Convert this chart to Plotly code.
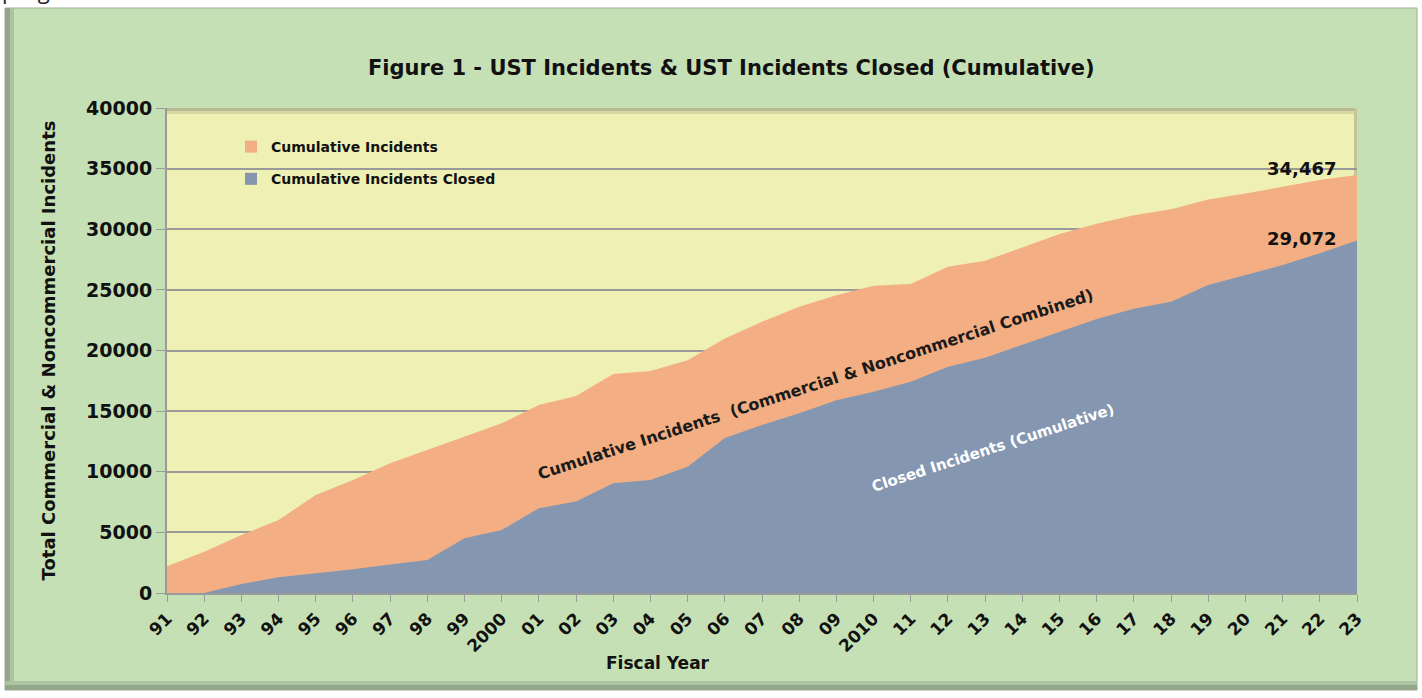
import plotly.graph_objects as go

years = ["91", "92", "93", "94", "95", "96", "97", "98", "99", "2000",
         "01", "02", "03", "04", "05", "06", "07", "08", "09", "2010",
         "11", "12", "13", "14", "15", "16", "17", "18", "19", "20",
         "21", "22", "23"]
cumulative_incidents = [2200, 3400, 4780, 6020, 8080, 9320, 10700, 11800, 12900, 14000,
                        15500, 16250, 18060, 18300, 19200, 21000, 22380, 23600, 24550, 25350,
                        25480, 26900, 27400, 28500, 29600, 30450, 31150, 31650, 32450, 32950,
                        33500, 34060, 34467]
cumulative_closed = [0, 0, 740, 1290, 1620, 1950, 2360, 2720, 4510, 5200,
                     6980, 7550, 9050, 9320, 10420, 12780, 13860, 14820, 15900, 16600,
                     17430, 18660, 19400, 20450, 21550, 22600, 23450, 24030, 25400, 26230,
                     27050, 28020, 29072]
y_ticks = [0, 5000, 10000, 15000, 20000, 25000, 30000, 35000, 40000]

W, H = 1422, 698
L, R, T, B = 167, 65, 108, 105
PW, PH = W - L - R, H - T - B


def px(x):
    return (x - L) / PW


def py(y):
    return (H - B - y) / PH


FONT = "DejaVu Sans"
C_ORANGE = "#F3AF83"
C_BLUE = "#8496B0"
TXT = "#111111"

fig = go.Figure()
fig.add_trace(go.Scatter(
    x=years, y=cumulative_incidents, name="Cumulative Incidents",
    mode="lines", line=dict(width=0, color=C_ORANGE), fill="tozeroy",
    fillcolor=C_ORANGE, showlegend=False))
fig.add_trace(go.Scatter(
    x=years, y=cumulative_closed, name="Cumulative Incidents Closed",
    mode="lines", line=dict(width=0, color=C_BLUE), fill="tozeroy",
    fillcolor=C_BLUE, showlegend=False))
# legend entries (square swatches)
fig.add_trace(go.Scatter(
    x=[None], y=[None], name="<b>Cumulative Incidents</b>", mode="markers",
    marker=dict(symbol="square", size=9, color=C_ORANGE), legendgroup="a"))
fig.add_trace(go.Scatter(
    x=[None], y=[None], name="<b>Cumulative Incidents Closed</b>", mode="markers",
    marker=dict(symbol="square", size=9, color=C_BLUE), legendgroup="b"))

shapes = [
    # green frame
    dict(type="rect", xref="paper", yref="paper", layer="below",
         x0=px(5), x1=px(1417), y0=py(690), y1=py(8),
         fillcolor="#C6E0B5", line=dict(width=1, color="#a0ac95")),
    # left shadow
    dict(type="rect", xref="paper", yref="paper", layer="below",
         x0=px(5), x1=px(10), y0=py(690), y1=py(8),
         fillcolor="#93a68a", line=dict(width=0)),
    dict(type="rect", xref="paper", yref="paper", layer="below",
         x0=px(10), x1=px(14), y0=py(690), y1=py(8),
         fillcolor="#aec3a1", line=dict(width=0)),
    # bottom shadow
    dict(type="rect", xref="paper", yref="paper", layer="below",
         x0=px(5), x1=px(1417), y0=py(690), y1=py(685),
         fillcolor="#93a68a", line=dict(width=0)),
    dict(type="rect", xref="paper", yref="paper", layer="below",
         x0=px(5), x1=px(1417), y0=py(685), y1=py(681),
         fillcolor="#aec3a1", line=dict(width=0)),
    # yellow plot area
    dict(type="rect", xref="paper", yref="paper", layer="below",
         x0=0, x1=1, y0=0, y1=1,
         fillcolor="#EFF0B4", line=dict(width=0)),
    # plot area top shadow
    dict(type="rect", xref="paper", yref="paper", layer="below",
         x0=0, x1=1, y0=py(111), y1=1,
         fillcolor="#b9b98f", line=dict(width=0)),
    dict(type="rect", xref="paper", yref="paper", layer="below",
         x0=0, x1=1, y0=py(114), y1=py(111),
         fillcolor="#d8d8a4", line=dict(width=0)),
    # plot area right shadow
    dict(type="rect", xref="paper", yref="paper", layer="below",
         x0=px(1354), x1=1, y0=0, y1=1,
         fillcolor="#c5c596", line=dict(width=0)),
]

annotations = [
    dict(text="progress", xref="paper", yref="paper", x=px(0), y=py(7),
         xanchor="left", yanchor="bottom", showarrow=False,
         font=dict(family="Open Sans", size=22, color="#222")),
    dict(text="<b>Figure 1 - UST Incidents & UST Incidents Closed (Cumulative)</b>",
         xref="paper", yref="paper", x=px(731), y=py(68), xanchor="center",
         yanchor="middle", showarrow=False,
         font=dict(family=FONT, size=21, color=TXT)),
    dict(text="<b>34,467</b>", xref="paper", yref="paper", x=px(1338), y=py(168),
         xanchor="right", yanchor="middle", showarrow=False,
         font=dict(family=FONT, size=18, color=TXT)),
    dict(text="<b>29,072</b>", xref="paper", yref="paper", x=px(1338), y=py(238),
         xanchor="right", yanchor="middle", showarrow=False,
         font=dict(family=FONT, size=18, color=TXT)),
    dict(text="<b>Cumulative Incidents  (Commercial & Noncommercial Combined)</b>",
         xref="paper", yref="paper", x=px(815), y=py(384), xanchor="center",
         yanchor="middle", showarrow=False, textangle=-18,
         font=dict(family=FONT, size=16, color="#1a1a1a")),
    dict(text="<b>Closed Incidents (Cumulative)</b>",
         xref="paper", yref="paper", x=px(993), y=py(448), xanchor="center",
         yanchor="middle", showarrow=False, textangle=-18,
         font=dict(family=FONT, size=15, color="#ffffff")),
    dict(text="<b>Fiscal Year</b>", xref="paper", yref="paper", x=px(658), y=py(663),
         xanchor="center", yanchor="middle", showarrow=False,
         font=dict(family=FONT, size=17, color=TXT)),
]

fig.update_layout(
    width=W, height=H,
    margin=dict(l=L, r=R, t=T, b=B, pad=0),
    paper_bgcolor="#ffffff",
    plot_bgcolor="rgba(0,0,0,0)",
    shapes=shapes,
    annotations=annotations,
    showlegend=True,
    legend=dict(x=px(231), y=py(131), xanchor="left", yanchor="top",
                bgcolor="rgba(0,0,0,0)", traceorder="grouped",
                font=dict(family=FONT, size=14, color=TXT),
                itemsizing="constant", tracegroupgap=11, itemwidth=30),
    xaxis=dict(
        type="category", range=[0, len(years) - 1],
        tickmode="array", tickvals=years, ticktext=[f"<b>{y}</b>" for y in years],
        tickangle=-45, ticks="outside", ticklen=7, tickcolor="#9a9a9a",
        showgrid=False, showline=True, linecolor="#9a9a9a", linewidth=2,
        tickfont=dict(family=FONT, size=17, color=TXT),
        zeroline=False,
    ),
    yaxis=dict(
        range=[0, 40000], tickmode="array", tickvals=y_ticks,
        ticktext=[f"<b>{v}</b>" for v in y_ticks],
        ticks="outside", ticklen=9, tickcolor="#9a9a9a",
        showgrid=True, gridcolor="#9a9a9a", gridwidth=2,
        showline=True, linecolor="#9a9a9a", linewidth=2,
        tickfont=dict(family=FONT, size=19, color=TXT),
        title=dict(text="<b>Total Commercial & Noncommercial Incidents</b>", standoff=26,
                   font=dict(family=FONT, size=18, color=TXT)),
        zeroline=False,
    ),
)

fig.write_html("out.html", config={"displayModeBar": False},
               post_script="document.body.style.margin='0';document.body.style.overflow='hidden';")
